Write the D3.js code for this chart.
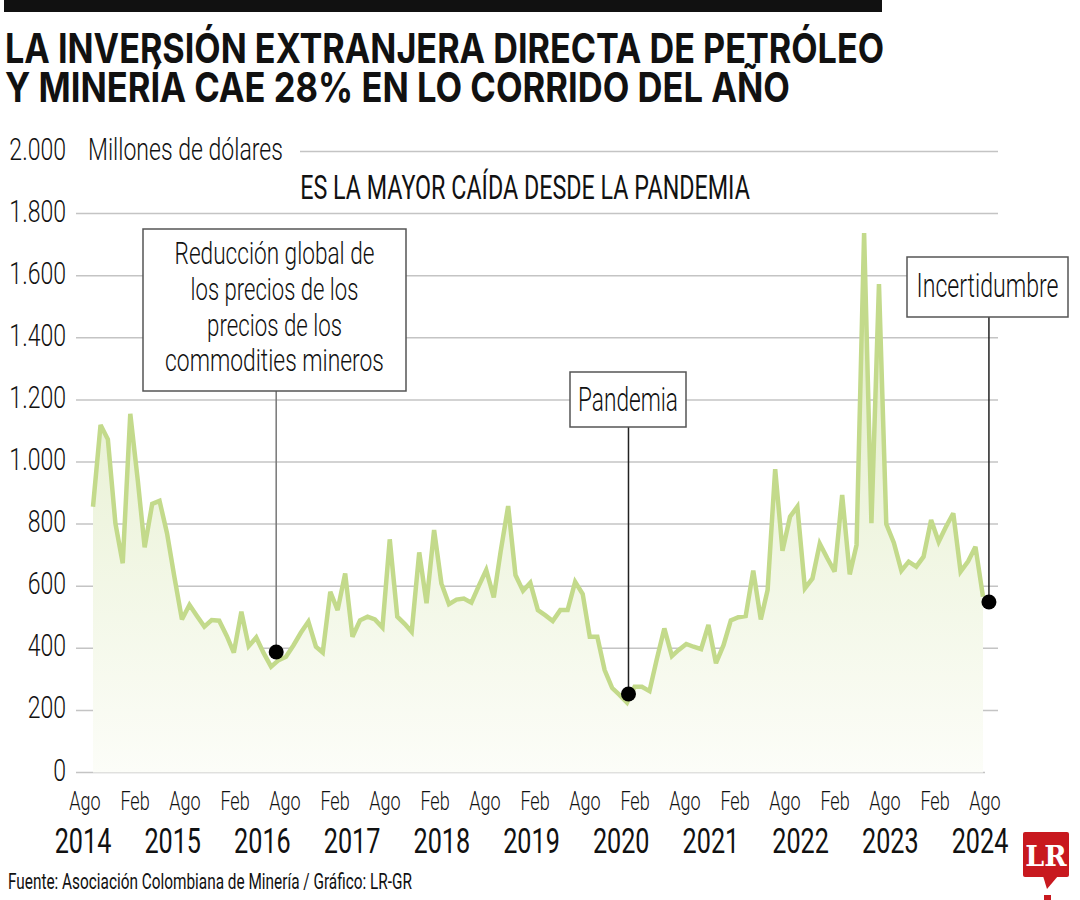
<!DOCTYPE html>
<html><head><meta charset="utf-8">
<script src="https://cdn.jsdelivr.net/npm/d3@7"></script>
<style>
body{margin:0;background:#fff;}
svg{display:block;}
text{font-family:'Roboto','Liberation Sans Narrow',sans-serif;font-weight:300;fill:#111;}
</style></head><body>
<svg id="c" width="1080" height="900"></svg>
<script>
// ---- DATA ----
const startMonth = new Date(2014, 7, 1); // Agosto 2014, serie mensual
const values = [
  856,1119,1073,802,674,1155,940,725,865,875,
  770,630,493,540,505,470,491,489,440,386,
  518,407,435,385,341,362,373,410,450,486,
  405,386,582,523,641,437,490,502,493,467,
  751,502,478,453,709,545,781,609,542,557,
  560,547,600,652,564,711,858,636,585,611,
  523,506,488,523,523,614,575,437,437,330,
  272,250,225,276,276,262,365,464,375,395,
  414,405,397,475,352,410,490,500,504,650,
  493,588,977,714,824,856,593,625,737,690,
  647,894,638,733,1737,803,1573,800,740,650,
  679,663,695,813,743,790,835,647,680,727,
  566
];
const yTicks = [0,200,400,600,800,1000,1200,1400,1600,1800,2000];
const yTickLabels = ["0","200","400","600","800","1.000","1.200","1.400","1.600","1.800","2.000"];
const monthLabels = ["Ago","Feb","Ago","Feb","Ago","Feb","Ago","Feb","Ago","Feb","Ago","Feb","Ago","Feb","Ago","Feb","Ago","Feb","Ago"];
const yearLabels = ["2014","2015","2016","2017","2018","2019","2020","2021","2022","2023","2024"];
const titleLines = ["LA INVERSIÓN EXTRANJERA DIRECTA DE PETRÓLEO","Y MINERÍA CAE 28% EN LO CORRIDO DEL AÑO"];
const annotIndex = [24.7, 72.2, 120.8];
const annotValue = [388, 253, 549];
const annotText = [
  ["Reducción global de","los precios de los","precios de los","commodities mineros"],
  ["Pandemia"],
  ["Incertidumbre"]
];

// ---- LAYOUT ----
const svg = d3.select("#c");
const dates = values.map((v,i)=>d3.timeMonth.offset(startMonth,i));
const x = d3.scaleTime().domain([dates[0], dates[dates.length-1]]).range([93, 983]);
const xi = i => x(dates[0]) + (x(dates[dates.length-1]) - x(dates[0])) * i/(values.length-1);
const y = d3.scaleLinear().domain([0,2000]).range([772.5,151.5]);

// horizontal squeeze via transform (keeps real bounding boxes)
function squeeze(node, px, py, sx){
  d3.select(node).attr("x",0).attr("y",0).attr("transform",`translate(${px},${py}) scale(${sx},1)`);
}
function toWidth(sel, px, py, w){ const n = sel.node(); squeeze(n, px, py, w / n.getComputedTextLength()); }

// top bar
svg.append("rect").attr("x",4).attr("y",0).attr("width",878).attr("height",12).attr("fill","#111");

// title (one text, two lines)
const tf = "'Inter','Liberation Sans',sans-serif";
const title = svg.append("text").attr("font-size",41).style("font-weight","bold").style("font-family",tf);
const ts = title.selectAll("tspan").data(titleLines).join("tspan")
  .attr("x",0).attr("y",(d,i)=> i*39).text(d=>d);
const w1 = ts.nodes()[0].getComputedTextLength(), w2 = ts.nodes()[1].getComputedTextLength();
ts.attr("textLength",(d,i)=> i===0 ? w1 : w2*(785/w2)/(879/w1)).attr("lengthAdjust","spacingAndGlyphs");
title.attr("transform",`translate(5,63) scale(${879/w1},1)`);

// measure condense factor from unit label
const unit = svg.append("text").attr("font-size",32).text("Millones de dólares");
const kBase = 195 / unit.node().getComputedTextLength();
squeeze(unit.node(), 88, 160, kBase);

// gridlines
const grid = svg.append("g");
grid.selectAll("line").data(yTicks).join("line")
  .attr("x1", d => d===2000 ? 300 : 76)
  .attr("x2", d => d===0 ? 985 : 998)
  .attr("y1", d=>y(d)).attr("y2", d=>y(d))
  .attr("stroke","#c4c4c4").attr("stroke-width",1.5);

// y labels
svg.append("g").selectAll("text").data(yTicks).join("text")
  .attr("text-anchor","end").attr("font-size",32)
  .text((d,i)=>yTickLabels[i])
  .each(function(d){ squeeze(this, 66, y(d)+8, kBase); });

// subtitle
const sub = svg.append("text").attr("text-anchor","middle").attr("font-size",33)
  .style("font-weight",400).text("ES LA MAYOR CAÍDA DESDE LA PANDEMIA");
toWidth(sub, 525, 199, 450);

// area gradient
const defs = svg.append("defs");
const gr = defs.append("linearGradient").attr("id","ag").attr("gradientUnits","userSpaceOnUse")
  .attr("x1",0).attr("x2",0).attr("y1",y(1800)).attr("y2",y(0));
gr.append("stop").attr("offset",0).attr("stop-color","#dfeac0");
gr.append("stop").attr("offset",0.55).attr("stop-color","#eff5e0");
gr.append("stop").attr("offset",1).attr("stop-color","#fcfdf8");

const area = d3.area().x((d,i)=>x(dates[i])).y0(y(0)).y1(d=>y(d));
svg.append("path").datum(values).attr("d",area).attr("fill","url(#ag)");
const line = d3.line().x((d,i)=>x(dates[i])).y(d=>y(d));
svg.append("path").datum(values).attr("d",line).attr("fill","none")
  .attr("stroke","#c3da8b").attr("stroke-width",4.5).attr("stroke-linejoin","miter").attr("stroke-miterlimit",3);

// annotations
const boxes = [
  {x0:143,y0:229,x1:406,y1:391,fs:31,base:[264,300,336,371],w:[200,168,135,219]},
  {x0:570,y0:372,x1:686,y1:427,fs:33,base:[411],w:[100]},
  {x0:907,y0:257,x1:1068,y1:317,fs:33,base:[297],w:[142]}
];
boxes.forEach((b,k)=>{
  const ax = xi(annotIndex[k]), ay = y(annotValue[k]);
  svg.append("line").attr("x1",ax).attr("x2",ax).attr("y1",b.y1).attr("y2",ay)
    .attr("stroke", k===0 ? "#777" : "#222").attr("stroke-width",1.5);
  svg.append("rect").attr("x",b.x0).attr("y",b.y0).attr("width",b.x1-b.x0).attr("height",b.y1-b.y0)
    .attr("fill","#fff").attr("stroke","#555").attr("stroke-width",1.5);
  const cx = (b.x0+b.x1)/2;
  svg.append("g").selectAll("text").data(annotText[k]).join("text")
    .attr("text-anchor","middle").attr("font-size",b.fs).text(d=>d)
    .each(function(d,i){ toWidth(d3.select(this), cx, b.base[i], b.w[i]); });
  svg.append("circle").attr("cx",ax).attr("cy",ay).attr("r",7.5).attr("fill","#000");
});

// x labels
const xm = d3.scalePoint().domain(d3.range(monthLabels.length)).range([85,985]);
svg.append("g").selectAll("text").data(monthLabels).join("text")
  .attr("text-anchor","middle").attr("font-size",25).text(d=>d)
  .each(function(d,i){ squeeze(this, xm(i), 810, kBase); });
const xy = d3.scalePoint().domain(d3.range(yearLabels.length)).range([83,980]);
svg.append("g").selectAll("text").data(yearLabels).join("text")
  .attr("text-anchor","middle").attr("font-size",35).style("font-weight",400).text(d=>d)
  .each(function(d,i){ squeeze(this, xy(i), 853, kBase); });

// footer
const ft = svg.append("text").attr("font-size",22).style("font-weight",400)
  .text("Fuente: Asociación Colombiana de Minería / Gráfico: LR-GR");
toWidth(ft, 8, 889, 404);

// LR logo
svg.append("rect").attr("x",1023).attr("y",832).attr("width",46).attr("height",45).attr("rx",2).attr("fill","#c8191f");
svg.append("path").attr("d","M1043,876 L1058,876 L1047,889 Z").attr("fill","#c8191f");
svg.append("text").attr("x",1046).attr("y",866).attr("text-anchor","middle").attr("font-size",27)
  .style("font-weight","bold").style("font-family","'DejaVu Serif','Liberation Serif',serif").style("fill","#fff").text("LR");
svg.append("rect").attr("x",1044).attr("y",895).attr("width",7).attr("height",5).attr("fill","#c8191f");
</script>
</body></html>
